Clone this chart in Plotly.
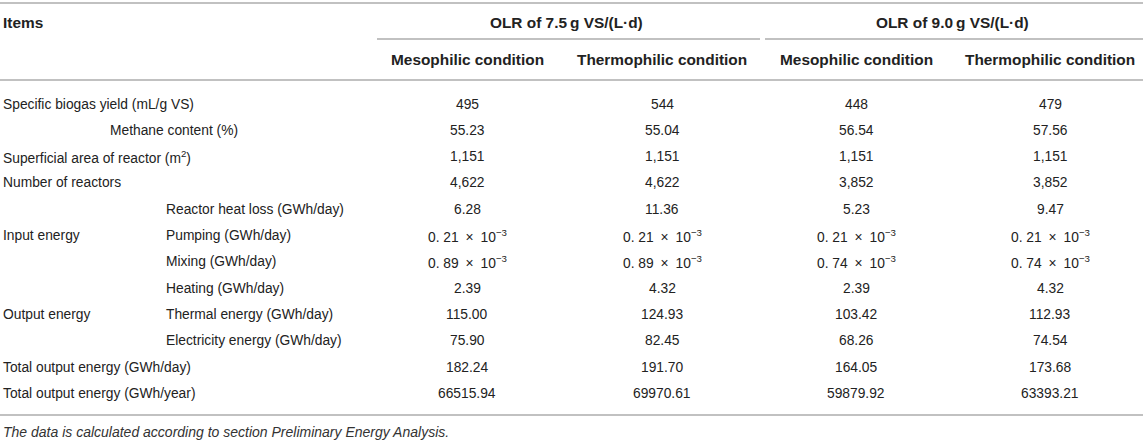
import plotly.graph_objects as go

W, H = 1143, 442

# ---- table content ----
row_labels = [
    "Specific biogas yield (mL/g VS)",
    "Methane content (%)",
    "Superficial area of reactor (m<sup>2</sup>)",
    "Number of reactors",
    "Reactor heat loss (GWh/day)",
    "Pumping (GWh/day)",
    "Mixing (GWh/day)",
    "Heating (GWh/day)",
    "Thermal energy (GWh/day)",
    "Electricity energy (GWh/day)",
    "Total output energy (GWh/day)",
    "Total output energy (GWh/year)",
]
# indentation level of each label: 0 = flush, 1 = half indent, 2 = sub-item
row_indent = [0, 1, 0, 0, 2, 2, 2, 2, 2, 2, 0, 0]
group_labels = ["Input energy", "Output energy"]
group_rows = [5, 8]

col_groups = ["OLR of 7.5\u2009g VS/(L\u00b7d)", "OLR of 9.0\u2009g VS/(L\u00b7d)"]
col_headers = ["Mesophilic condition", "Thermophilic condition",
               "Mesophilic condition", "Thermophilic condition"]

E = "\u2002\u00d7\u200210<sup>\u22123</sup>"
meso_75 = ["495", "55.23", "1,151", "4,622", "6.28", "0. 21" + E, "0. 89" + E,
           "2.39", "115.00", "75.90", "182.24", "66515.94"]
thermo_75 = ["544", "55.04", "1,151", "4,622", "11.36", "0. 21" + E, "0. 89" + E,
             "4.32", "124.93", "82.45", "191.70", "69970.61"]
meso_90 = ["448", "56.54", "1,151", "3,852", "5.23", "0. 21" + E, "0. 74" + E,
           "2.39", "103.42", "68.26", "164.05", "59879.92"]
thermo_90 = ["479", "57.56", "1,151", "3,852", "9.47", "0. 21" + E, "0. 74" + E,
             "4.32", "112.93", "74.54", "173.68", "63393.21"]
columns = [meso_75, thermo_75, meso_90, thermo_90]

footnote = "The data is calculated according to section Preliminary Energy Analysis."

# ---- layout geometry ----
col_x = [467, 662, 856, 1050]
group_x = [566, 952]
indent_x = [1, 108, 164]
row_y0, row_dy = 104, 26.3
TXT = "#222222"
RULE = "#adadad"
FONT = "Liberation Sans, Arial, Helvetica, sans-serif"
BODY_SIZE = 13.8
HEAD_SIZE = 15.4

def ry(i):
    return row_y0 + i * row_dy

ann = []
def add(text, x, y, anchor="center", bold=False, italic=False, size=BODY_SIZE, color=TXT):
    if bold:
        text = "<b>" + text + "</b>"
    if italic:
        text = "<i>" + text + "</i>"
    ann.append(dict(text=text, x=x, y=y, xref="x", yref="y", xanchor=anchor,
                    yanchor="middle", showarrow=False,
                    font=dict(family=FONT, size=size, color=color)))

# header
add("Items", 1, 22, anchor="left", bold=True, size=HEAD_SIZE)
for g, gx in zip(col_groups, group_x):
    add(g, gx, 22, bold=True, size=HEAD_SIZE)
for h, cx in zip(col_headers, col_x):
    add(h, cx, 59, bold=True, size=HEAD_SIZE)

# body labels
for i, (lab, ind) in enumerate(zip(row_labels, row_indent)):
    add(lab, indent_x[ind], ry(i), anchor="left")
for g, r in zip(group_labels, group_rows):
    add(g, 1, ry(r), anchor="left")

# values
for col, cx in zip(columns, col_x):
    for i, v in enumerate(col):
        add(v, cx, ry(i))

add(footnote, 1, 432, anchor="left", italic=True, size=14, color="#333333")

shapes = []
def hline(x0, x1, y, w=1.5):
    shapes.append(dict(type="line", xref="x", yref="y", x0=x0, x1=x1, y0=y, y1=y,
                       line=dict(color=RULE, width=w)))

hline(0, W, 3)
hline(377, 760, 39)
hline(765, W, 39)
hline(0, W, 80)
hline(0, W, 415)

fig = go.Figure()
fig.add_trace(go.Scatter(x=[0, W], y=[0, H], mode="markers",
                         marker=dict(opacity=0), hoverinfo="skip", showlegend=False))
fig.update_layout(
    width=W, height=H, margin=dict(l=0, r=0, t=0, b=0),
    paper_bgcolor="white", plot_bgcolor="white",
    xaxis=dict(range=[0, W], visible=False, fixedrange=True),
    yaxis=dict(range=[H, 0], visible=False, fixedrange=True),
    annotations=ann, shapes=shapes, showlegend=False, hovermode=False,
)
fig.write_html("out.html", config={"displayModeBar": False},
               post_script="document.body.style.margin='0';document.body.style.overflow='hidden';")
